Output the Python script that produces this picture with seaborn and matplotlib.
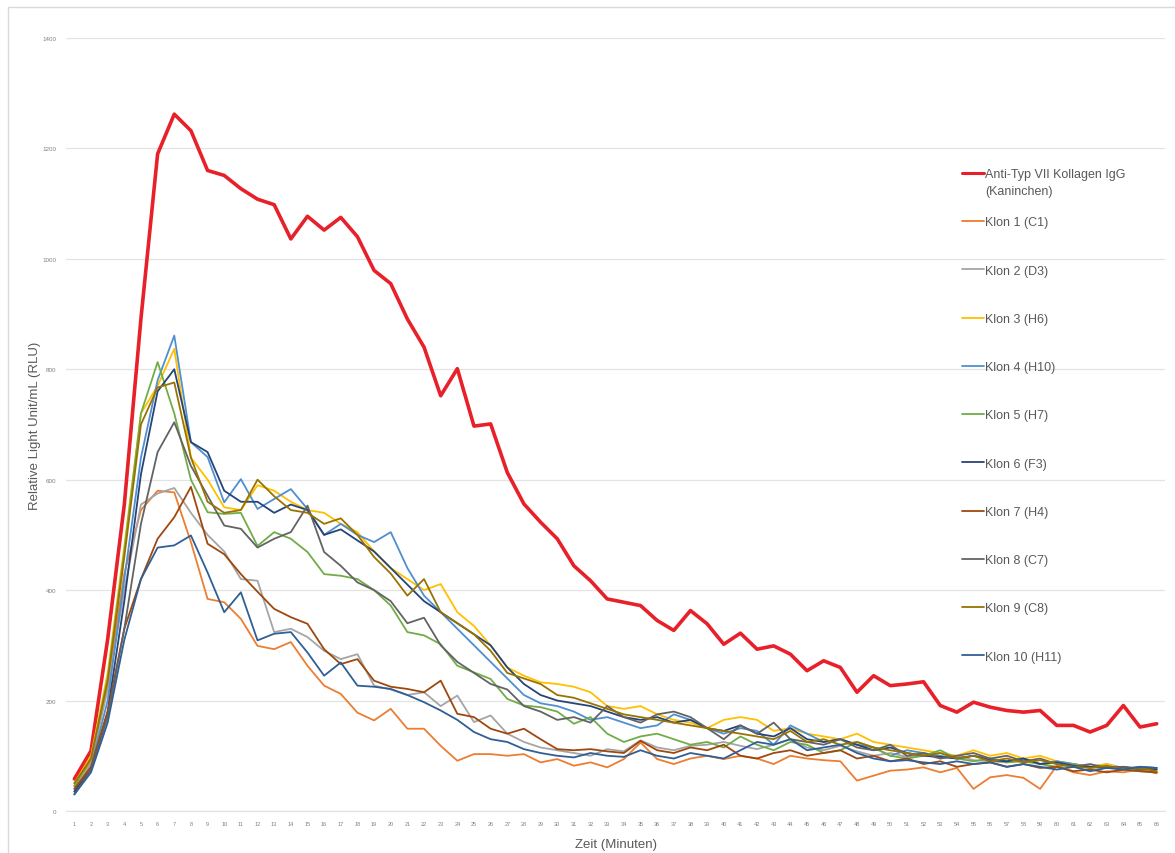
import numpy as np
import pandas as pd
import matplotlib
matplotlib.use("Agg")
import matplotlib.pyplot as plt
from matplotlib.lines import Line2D
from matplotlib.patches import Rectangle
import seaborn as sns

sns.set_theme(style="white")
plt.rcParams["font.family"] = ["Liberation Sans", "DejaVu Sans"]

minutes = list(range(1, 67))

series_names = [
    "Anti-Typ VII Kollagen IgG\n(Kaninchen)",
    "Klon 1 (C1)", "Klon 2 (D3)", "Klon 3 (H6)", "Klon 4 (H10)", "Klon 5 (H7)",
    "Klon 6 (F3)", "Klon 7 (H4)", "Klon 8 (C7)", "Klon 9 (C8)", "Klon 10 (H11)",
]

series_colors = [
    "#E8202A", "#ED7D31", "#A5A5A5", "#FFC000", "#4F8FD0", "#70AD47",
    "#264478", "#9E480E", "#636363", "#997300", "#2F5F95",
]

anti_typ_vii = [58, 109, 311, 555, 892, 1190, 1262, 1232, 1160, 1151,
                1127, 1108, 1098, 1036, 1077, 1052, 1075, 1040, 979, 955,
                891, 840, 752, 801, 697, 701, 613, 556, 523, 493,
                444, 417, 384, 378, 372, 345, 327, 363, 339, 302,
                322, 293, 299, 284, 254, 272, 260, 215, 245, 227,
                230, 234, 191, 179, 197, 188, 182, 179, 182, 155,
                155, 143, 155, 191, 152, 158]

klon_1 = [45, 90, 230, 430, 545, 580, 577, 487, 384, 378,
          348, 299, 293, 306, 263, 227, 212, 178, 164, 185,
          149, 149, 118, 91, 103, 103, 100, 103, 88, 94,
          82, 88, 79, 94, 124, 94, 85, 95, 100, 94,
          100, 95, 85, 100, 95, 92, 90, 55, 64, 73,
          75, 79, 70, 78, 40, 61, 65, 60, 40, 82,
          70, 65, 72, 70, 75, 68]

klon_2 = [40, 85, 220, 400, 555, 575, 585, 540, 500, 470,
          420, 417, 324, 330, 315, 290, 275, 284, 227, 220,
          210, 215, 190, 209, 161, 173, 140, 125, 115, 110,
          105, 100, 112, 108, 128, 115, 110, 118, 120, 125,
          118, 112, 120, 130, 115, 110, 118, 108, 100, 105,
          98, 102, 95, 100, 92, 90, 88, 95, 85, 90,
          85, 80, 85, 78, 80, 75]

klon_3 = [50, 100, 250, 480, 720, 770, 837, 640, 600, 550,
          545, 590, 580, 560, 545, 540, 520, 505, 470, 440,
          420, 400, 411, 360, 335, 300, 260, 245, 233, 230,
          225, 215, 190, 185, 190, 175, 165, 160, 150, 165,
          170, 165, 145, 150, 140, 135, 130, 140, 125, 120,
          115, 110, 105, 100, 110, 100, 105, 95, 100, 90,
          85, 80, 85, 75, 80, 70]

klon_4 = [35, 80, 200, 420, 640, 780, 861, 668, 641, 559,
          601, 547, 565, 583, 547, 500, 520, 500, 487, 505,
          440, 390, 360, 330, 300, 270, 240, 210, 195, 190,
          180, 165, 170, 160, 150, 155, 175, 165, 150, 140,
          150, 145, 120, 155, 140, 125, 130, 120, 115, 100,
          110, 105, 100, 95, 100, 95, 90, 95, 85, 90,
          85, 80, 80, 75, 80, 78]

klon_5 = [45, 95, 240, 470, 720, 813, 720, 600, 541, 538,
          540, 480, 505, 493, 469, 429, 426, 420, 400, 372,
          324, 318, 302, 263, 251, 239, 203, 191, 188, 180,
          158, 170, 140, 125, 135, 140, 130, 120, 125, 115,
          135, 120, 110, 125, 120, 105, 110, 125, 115, 100,
          95, 100, 110, 95, 90, 95, 88, 90, 85, 80,
          85, 78, 80, 75, 72, 70]

klon_6 = [35, 75, 180, 380, 610, 760, 800, 668, 650, 580,
          560, 560, 540, 555, 545, 500, 510, 490, 470, 440,
          410, 380, 360, 340, 320, 300, 260, 230, 210, 200,
          195, 190, 180, 170, 165, 170, 160, 165, 150, 145,
          155, 140, 135, 150, 130, 125, 130, 120, 110, 115,
          105, 100, 98, 95, 100, 92, 90, 95, 85, 88,
          82, 80, 78, 80, 76, 75]

klon_7 = [40, 80, 180, 330, 420, 493, 532, 587, 484, 465,
          429, 397, 366, 351, 339, 293, 266, 275, 236, 225,
          221, 215, 236, 176, 170, 149, 140, 149, 130, 112,
          110, 112, 108, 105, 127, 110, 105, 115, 110, 120,
          100, 95, 105, 110, 100, 105, 110, 95, 100, 90,
          95, 85, 90, 80, 85, 88, 80, 85, 78, 80,
          72, 75, 70, 75, 72, 70]

klon_8 = [30, 75, 170, 330, 520, 650, 704, 625, 571, 517,
          511, 477, 493, 505, 553, 469, 444, 414, 400, 380,
          340, 350, 300, 270, 250, 230, 220, 190, 180, 165,
          170, 160, 190, 170, 160, 175, 180, 170, 150, 130,
          155, 140, 160, 130, 125, 120, 130, 115, 110, 120,
          100, 105, 95, 100, 105, 95, 100, 90, 95, 85,
          80, 85, 78, 80, 75, 78]

klon_9 = [50, 95, 235, 460, 700, 767, 776, 640, 560, 540,
          545, 600, 570, 545, 540, 520, 530, 500, 460, 430,
          390, 420, 360, 340, 320, 290, 250, 240, 230, 210,
          205, 195, 185, 175, 170, 165, 160, 155, 150, 145,
          140, 135, 130, 145, 125, 130, 120, 125, 115, 110,
          105, 100, 105, 95, 100, 90, 95, 88, 92, 85,
          80, 78, 82, 75, 78, 72]

klon_10 = [30, 70, 160, 310, 420, 477, 481, 499, 432, 360,
           396, 309, 321, 324, 287, 245, 269, 227, 225, 221,
           210, 197, 182, 165, 143, 130, 125, 112, 105, 100,
           97, 105, 100, 98, 110, 100, 95, 105, 100, 95,
           110, 125, 120, 130, 110, 115, 120, 105, 95, 90,
           92, 88, 85, 90, 85, 88, 80, 85, 80, 75,
           80, 72, 78, 75, 80, 78]

y_ticks = [0, 200, 400, 600, 800, 1000, 1200, 1400]

all_values = [anti_typ_vii, klon_1, klon_2, klon_3, klon_4, klon_5,
              klon_6, klon_7, klon_8, klon_9, klon_10]

frames = []
for name, vals in zip(series_names, all_values):
    frames.append(pd.DataFrame({"Zeit": minutes, "RLU": vals, "Serie": name}))
df = pd.concat(frames, ignore_index=True)

fig = plt.figure(figsize=(11.75, 8.54), dpi=100)
ax = fig.add_axes([0.0562, 0.0492, 0.9353, 0.9052])

# thin light frame around the chart area
fig.patches.append(Rectangle((0.0068, -0.05), 1.1, 1.0406, transform=fig.transFigure,
                             fill=False, edgecolor="#D9D9D9", linewidth=1.0, zorder=0))

sns.lineplot(data=df, x="Zeit", y="RLU", hue="Serie", hue_order=series_names,
             palette=dict(zip(series_names, series_colors)), estimator=None,
             sort=False, linewidth=1.3, legend=False, ax=ax)

for i, line in enumerate(ax.lines):
    if i == 0:
        line.set_linewidth(2.6)
        line.set_zorder(3)
    else:
        line.set_linewidth(1.3)
        line.set_zorder(4)

ax.set_xlim(0.5, 66.5)
ax.set_ylim(0, 1400)
ax.set_yticks(y_ticks)
ax.set_yticklabels([str(v) for v in y_ticks], fontsize=4.5, color="#7F7F7F")
ax.set_xticks(minutes)
ax.set_xticklabels([str(m) for m in minutes], fontsize=4, color="#7F7F7F")
ax.tick_params(axis="both", length=0, pad=7)
ax.grid(axis="y", color="#E3E3E3", linewidth=0.9)
ax.set_axisbelow(True)
for side in ["top", "right", "left"]:
    ax.spines[side].set_visible(False)
ax.spines["bottom"].set_color("#E3E3E3")
ax.spines["bottom"].set_linewidth(0.9)

ax.set_xlabel("Zeit (Minuten)", fontsize=9.5, color="#595959", labelpad=9)
ax.set_ylabel("Relative Light Unit/mL (RLU)", fontsize=9.5, color="#595959", labelpad=1)

# legend: the first entry keeps its second line below, overflowing into the gap
first_line, second_line = series_names[0].split("\n")
legend_labels = [first_line] + series_names[1:]
handles = [Line2D([0], [0], color=c, linewidth=(2.2 if i == 0 else 1.3))
           for i, c in enumerate(series_colors)]
leg = ax.legend(handles, legend_labels, loc="upper left", bbox_to_anchor=(0.805, 0.846),
                frameon=False, fontsize=9, handlelength=1.8, handletextpad=0.05,
                labelspacing=2.9, labelcolor="#595959")

fig.canvas.draw()
renderer = fig.canvas.get_renderer()
bb = leg.get_texts()[0].get_window_extent(renderer)
x_fig, y_fig = fig.transFigure.inverted().transform((bb.x0, bb.y0 - 18 + 1))
fig.text(x_fig, y_fig, second_line, fontsize=9, color="#595959", ha="left", va="bottom")

fig.savefig("out.png", dpi=100, facecolor="white")
